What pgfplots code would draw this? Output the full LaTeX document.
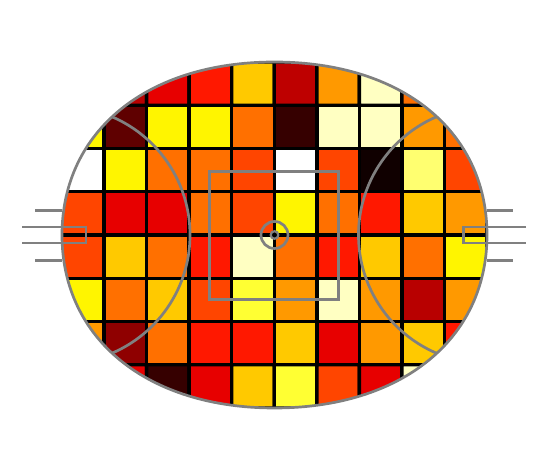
\documentclass[border=0pt]{standalone}
\usepackage{pgfplots}
\pgfplotsset{compat=1.18}
\definecolor{fieldgrey}{RGB}{128,128,128}
\pgfplotstableread{
x y c
0.5 7.5 0.6
1.5 7.5 0.34
2.5 7.5 0.08
3.5 7.5 0.34
4.5 7.5 0.67
5.5 7.5 0.80
6.5 7.5 0.476
7.5 7.5 0.34
8.5 7.5 0.94
9.5 7.5 0.6
0.5 6.5 0.60
1.5 6.5 0.21
2.5 6.5 0.54
3.5 6.5 0.41
4.5 6.5 0.41
5.5 6.5 0.67
6.5 6.5 0.34
7.5 6.5 0.60
8.5 6.5 0.67
9.5 6.5 0.41
0.5 5.5 0.735
1.5 5.5 0.54
2.5 5.5 0.67
3.5 5.5 0.476
4.5 5.5 0.80
5.5 5.5 0.60
6.5 5.5 0.94
7.5 5.5 0.60
8.5 5.5 0.27
9.5 5.5 0.60
0.5 4.5 0.476
1.5 4.5 0.67
2.5 4.5 0.54
3.5 4.5 0.41
4.5 4.5 0.94
5.5 4.5 0.54
6.5 4.5 0.41
7.5 4.5 0.67
8.5 4.5 0.54
9.5 4.5 0.735
0.5 3.5 0.476
1.5 3.5 0.34
2.5 3.5 0.34
3.5 3.5 0.54
4.5 3.5 0.476
5.5 3.5 0.735
6.5 3.5 0.54
7.5 3.5 0.41
8.5 3.5 0.67
9.5 3.5 0.60
0.5 2.5 1.0
1.5 2.5 0.735
2.5 2.5 0.54
3.5 2.5 0.54
4.5 2.5 0.476
5.5 2.5 1.0
6.5 2.5 0.476
7.5 2.5 0.024
8.5 2.5 0.86
9.5 2.5 0.476
0.5 1.5 0.735
1.5 1.5 0.14
2.5 1.5 0.735
3.5 1.5 0.735
4.5 1.5 0.54
5.5 1.5 0.08
6.5 1.5 0.94
7.5 1.5 0.94
8.5 1.5 0.60
9.5 1.5 0.54
0.5 0.5 0.6
1.5 0.5 0.27
2.5 0.5 0.34
3.5 0.5 0.41
4.5 0.5 0.67
5.5 0.5 0.28
6.5 0.5 0.60
7.5 0.5 0.94
8.5 0.5 0.54
9.5 0.5 0.6
}\heat
\def\ovalpath{(487pt,235pt) .. controls (487pt,338.8pt) and (402pt,408pt) .. (274.5pt,408pt) .. controls (147pt,408pt) and (62pt,338.8pt) .. (62pt,235pt) .. controls (62pt,131.2pt) and (147pt,62pt) .. (274.5pt,62pt) .. controls (402pt,62pt) and (487pt,131.2pt) .. (487pt,235pt) -- cycle}
\begin{document}
\begin{tikzpicture}
\useasboundingbox (0,0) rectangle (547pt,470pt);
\begin{scope}
\clip \ovalpath;
\begin{axis}[
  at={(61.5pt,62pt)}, anchor=south west,
  scale only axis, width=425.5pt, height=346pt,
  xmin=0, xmax=10, ymin=0, ymax=8,
  hide axis,
  colormap={hot}{rgb255(0cm)=(0,0,0) rgb255(3cm)=(255,0,0) rgb255(6cm)=(255,255,0) rgb255(8cm)=(255,255,255)},
  point meta min=0, point meta max=1,
]
\addplot[matrix plot, mesh/cols=10, point meta=explicit, shader=faceted, faceted color=black, draw=black, line width=3.4pt] table[x=x, y=y, meta=c] {\heat};
\end{axis}
\end{scope}
\begin{scope}[draw=fieldgrey, line width=2.7pt]
\draw \ovalpath;
\begin{scope}
\clip \ovalpath;
\draw (61.5pt,235pt) circle[radius=128.5pt];
\draw (487pt,235pt) circle[radius=128.5pt];
\end{scope}
\draw (209.8pt,170.5pt) rectangle (338.5pt,298.5pt);
\draw (274.5pt,235pt) circle[radius=13.5pt];
\draw[line width=2.2pt] (274.5pt,235pt) circle[radius=3.8pt];
\draw (35pt,259.7pt) -- (62pt,259.7pt);
\draw (35pt,209.7pt) -- (62pt,209.7pt);
\draw (22.3pt,243pt) -- (86pt,243pt) -- (86pt,227pt) -- (22.3pt,227pt);
\draw (512.7pt,259.7pt) -- (487pt,259.7pt);
\draw (512.7pt,209.7pt) -- (487pt,209.7pt);
\draw (526pt,243pt) -- (463.3pt,243pt) -- (463.3pt,227pt) -- (526pt,227pt);
\end{scope}
\end{tikzpicture}
\end{document}
